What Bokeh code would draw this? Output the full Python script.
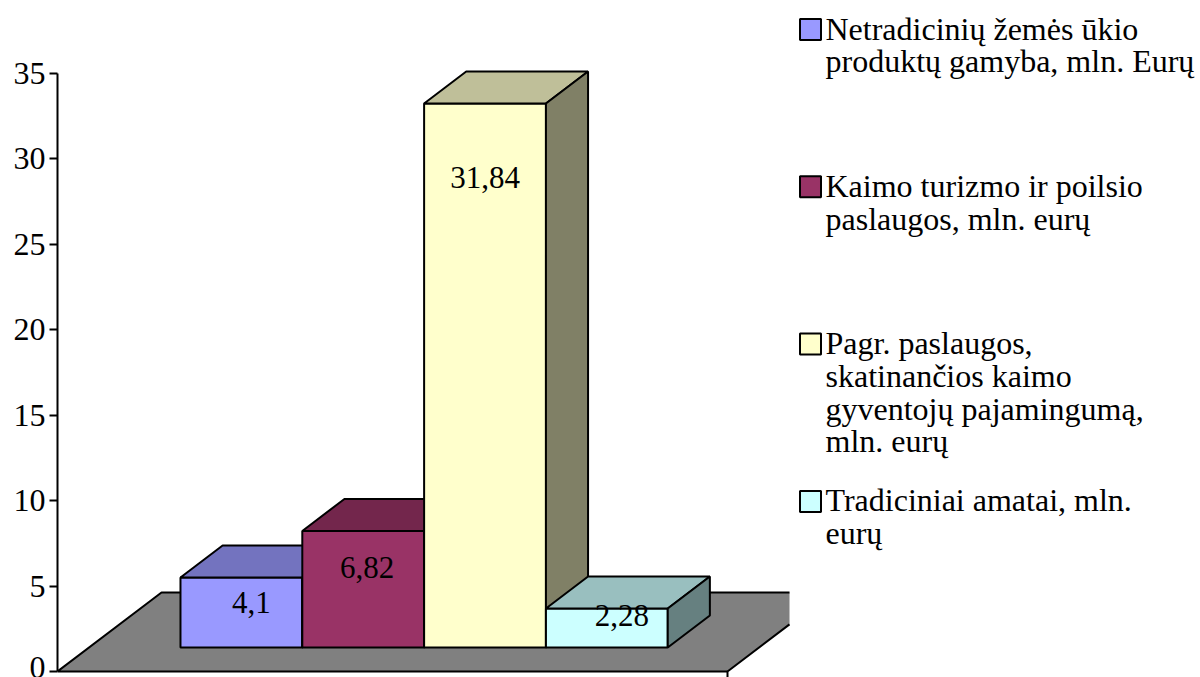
from bokeh.plotting import figure
from bokeh.models import Range1d, FixedTicker
from bokeh.core.properties import value
from bokeh.embed import file_html
from bokeh.resources import INLINE

# ---------------- data ----------------
series_names = [
    ["Netradicinių žemės ūkio", "produktų gamyba, mln. Eurų"],
    ["Kaimo turizmo ir poilsio", "paslaugos, mln. eurų"],
    ["Pagr. paslaugos,", "skatinančios kaimo", "gyventojų pajamingumą,", "mln. eurų"],
    ["Tradiciniai amatai, mln.", "eurų"],
]
values = [4.1, 6.82, 31.84, 2.28]
value_labels = ["4,1", "6,82", "31,84", "2,28"]
y_ticks = [0, 5, 10, 15, 20, 25, 30, 35]

# ---------------- style / layout ----------------
front_colors = ["#9999FF", "#993366", "#FFFFCC", "#CCFFFF"]
FONT = "Liberation Serif"
W, H = 1200, 677
X0F = 57            # px of category start (y axis)
XS = 670            # px per category
Y0F = 671           # px of value 0
K = 598 / 35        # px per value unit
GAP = 1.5
NB = len(values)
BW = 1 / (NB + GAP)
START = GAP / 2 * BW
FLOOR_DX = 104 / XS
FLOOR_DY = 79 / K
F0, F1 = 0.304, 0.709
CLIP_X = (789 - X0F) / XS
LABEL_DX = [10, 4, 0, 15]
LABEL_DY = [25, 37, 74, 7]


def shade(hexc, f):
    r, g, b = int(hexc[1:3], 16), int(hexc[3:5], 16), int(hexc[5:7], 16)
    return "#%02X%02X%02X" % (round(r * f), round(g * f), round(b * f))


def px_x(fx):
    return (fx - X0F) / XS


def px_y(fy):
    return (Y0F - fy) / K


p = figure(width=W, height=H, output_backend="svg", toolbar_location=None,
           x_range=Range1d(0, (W - X0F) / XS), y_range=Range1d(px_y(H), px_y(0)),
           min_border_left=X0F, min_border_right=0, min_border_top=0, min_border_bottom=0,
           x_axis_location=None)
p.outline_line_color = None
p.xgrid.visible = False
p.ygrid.visible = False
p.background_fill_color = "white"

ax = p.yaxis[0]
ax.ticker = FixedTicker(ticks=y_ticks)
ax.bounds = (0, 35)
ax.axis_line_width = 2
ax.axis_line_color = "black"
ax.major_tick_line_width = 2
ax.major_tick_line_color = "black"
ax.major_tick_out = 8
ax.major_tick_in = 0
ax.minor_tick_line_color = None
ax.major_label_standoff = 4
ax.major_label_text_font = FONT
ax.major_label_text_font_size = "32px"
ax.major_label_text_color = "black"

# ---------------- floor ----------------
t = (CLIP_X - 1) / FLOOR_DX
floor_x = [0, FLOOR_DX, CLIP_X, CLIP_X, 1]
floor_y = [0, FLOOR_DY, FLOOR_DY, t * FLOOR_DY, 0]
p.patch(floor_x, floor_y, fill_color="#808080", line_color=None)
p.multi_line([[1, 0, FLOOR_DX, CLIP_X], [CLIP_X, 1, 1]],
             [[0, 0, FLOOR_DY, FLOOR_DY], [t * FLOOR_DY, 0, -1]],
             line_color="black", line_width=2)

# ---------------- 3D bars ----------------
xs, ys, cols = [], [], []
bx0 = F0 * FLOOR_DX
by0 = F0 * FLOOR_DY
ddx = (F1 - F0) * FLOOR_DX
ddy = (F1 - F0) * FLOOR_DY
for i, v in enumerate(values):
    xl = START + i * BW + bx0
    xr = xl + BW
    top = by0 + v
    # front
    xs.append([xl, xr, xr, xl]); ys.append([by0, by0, top, top]); cols.append(front_colors[i])
    # top
    xs.append([xl, xr, xr + ddx, xl + ddx]); ys.append([top, top, top + ddy, top + ddy])
    cols.append(shade(front_colors[i], 0.75))
    # side
    xs.append([xr, xr + ddx, xr + ddx, xr]); ys.append([by0, by0 + ddy, top + ddy, top])
    cols.append(shade(front_colors[i], 0.5))
p.patches(xs, ys, fill_color=cols, line_color="black", line_width=2)

# value labels
lx = [START + i * BW + bx0 + BW / 2 + LABEL_DX[i] / XS for i in range(NB)]
ly = [by0 + v - LABEL_DY[i] / K for i, v in enumerate(values)]
p.text(lx, ly, text=value_labels, text_align="center", text_baseline="middle",
       text_font=value(FONT), text_font_size="31px", text_color="black")

# ---------------- legend ----------------
LEG_MID0 = 28       # vertical centre of first legend line
LEG_STEP = 157.3
LINE_H = 32.7
sq_x, sq_y = [], []
tx, ty, tt = [], [], []
for i, lines in enumerate(series_names):
    m0 = LEG_MID0 + i * LEG_STEP
    sq_x.append(px_x(810)); sq_y.append(px_y(m0 + 1))
    for j, line in enumerate(lines):
        tx.append(px_x(825)); ty.append(px_y(m0 + j * LINE_H)); tt.append(line)
p.scatter(sq_x, sq_y, marker="square", size=21, fill_color=front_colors,
          line_color="black", line_width=2)
p.text(tx, ty, text=tt, text_align="left", text_baseline="middle",
       text_font=value(FONT), text_font_size="32px", text_color="black")

open("out.html", "w").write(file_html(p, INLINE))
